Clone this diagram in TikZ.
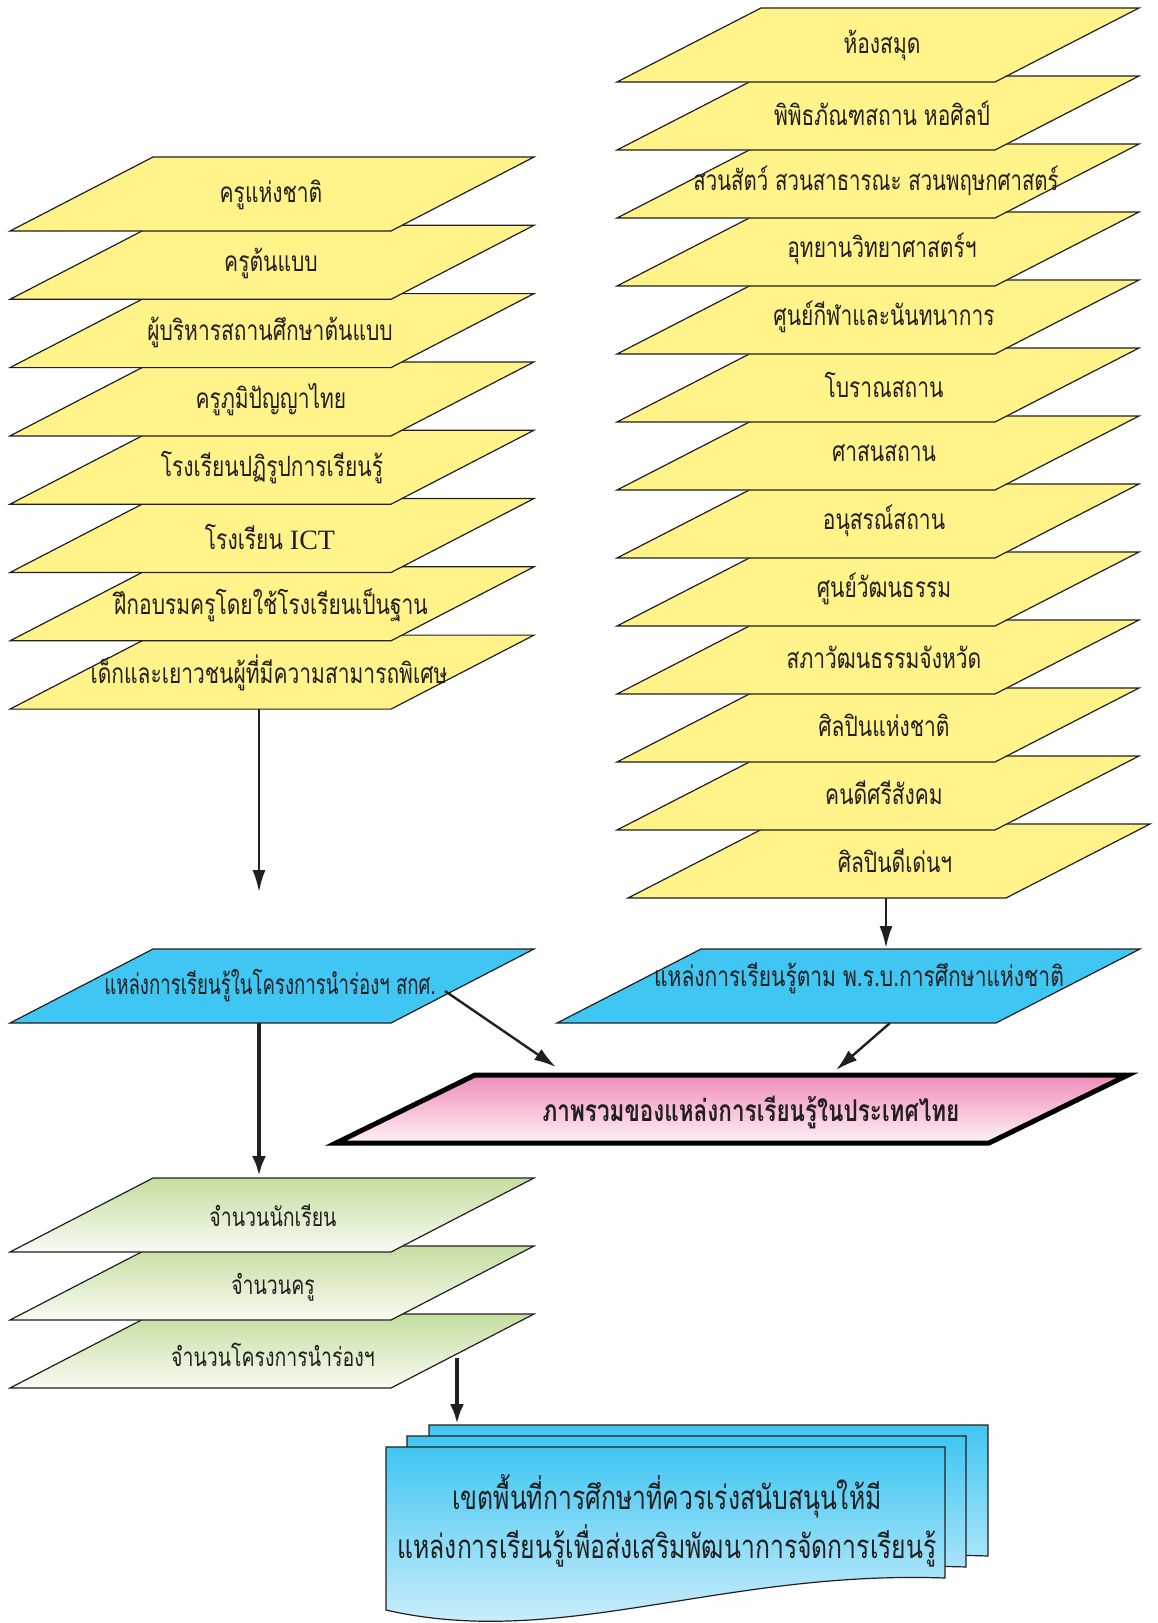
\documentclass[tikz,border=0pt]{standalone}
\usepackage{fontspec}
\newfontfamily\thai[Script=Thai,FakeStretch=0.75]{Loma}
\newfontfamily\thain[Script=Thai,FakeStretch=0.665]{Loma}
\newfontfamily\lat{Liberation Serif}
\usetikzlibrary{arrows.meta}
\definecolor{ylw}{RGB}{255,243,138}
\definecolor{cyn}{RGB}{64,198,242}
\definecolor{pnk}{RGB}{240,140,185}
\definecolor{pnkl}{RGB}{253,242,247}
\definecolor{grn}{RGB}{196,222,160}
\definecolor{grnl}{RGB}{248,251,243}
\definecolor{docl}{RGB}{224,244,252}
\definecolor{ink}{RGB}{35,31,32}
\newcommand\plgm[6]{\path[#6] (#1,#2) -- ++(#3,0) -- ++(#4,-#5) -- ++(-#3,0) -- cycle;}
\newcommand\docsheet[2]{\path[docbox, shift={(#1,#2)}] (386,1447) -- (945,1447) -- (945,1578) .. controls (720,1570) and (560,1650) .. (386,1610) -- cycle;}
\tikzset{
  box/.style={draw=ink, line width=1.2pt},
  ybox/.style={box, fill=ylw},
  bbox/.style={box, fill=cyn},
  gbox/.style={box, top color=grn, bottom color=grnl},
  pbox/.style={draw=black, line width=5pt, top color=pnk, bottom color=pnkl},
  docbox/.style={box, top color=cyn, bottom color=docl},
  ytxt/.style={font=\thai\fontsize{28}{30}\selectfont, text=ink, inner sep=0pt},
  gtxt/.style={font=\thai\fontsize{26}{28}\selectfont, text=ink, inner sep=0pt},
  btxt/.style={font=\thain\fontsize{28}{30}\selectfont, text=ink, inner sep=0pt},
  ptxt/.style={font=\thai\bfseries\fontsize{30}{32}\selectfont, text=ink, inner sep=0pt},
  dtxt/.style={font=\thai\fontsize{33}{40}\selectfont, text=ink, inner sep=0pt, align=center},
  conn/.style={draw=ink, line width=2.4pt, -{Latex[length=22pt,width=13pt]}},
  thickconn/.style={draw=ink, line width=4.5pt, -{Latex[length=20pt,width=14pt]}}
}
\begin{document}
\begin{tikzpicture}[x=1pt,y=-1pt]
\useasboundingbox (0,0) rectangle (1158,1623);
% right stack (drawn bottom to top)
\plgm{628}{898}{378}{144}{74}{ybox}
\foreach \i in {11,10,...,0}{\plgm{617}{82+68*\i}{378}{144}{74}{ybox}}
\node[ytxt] (R1) at (882,45) {ห้องสมุด};
\node[ytxt] (R2) at (882,113) {พิพิธภัณฑสถาน หอศิลป์};
\node[ytxt,xscale=0.97] (R3) at (876,181) {สวนสัตว์ สวนสาธารณะ สวนพฤษกศาสตร์};
\node[ytxt] (R4) at (882,249) {อุทยานวิทยาศาสตร์ฯ};
\node[ytxt] (R5) at (884,317) {ศูนย์กีฬาและนันทนาการ};
\node[ytxt] (R6) at (884,385) {โบราณสถาน};
\node[ytxt] (R7) at (884,453) {ศาสนสถาน};
\node[ytxt] (R8) at (884,521) {อนุสรณ์สถาน};
\node[ytxt] (R9) at (884,589) {ศูนย์วัฒนธรรม};
\node[ytxt] (R10) at (884,657) {สภาวัฒนธรรมจังหวัด};
\node[ytxt] (R11) at (884,725) {ศิลปินแห่งชาติ};
\node[ytxt] (R12) at (884,793) {คนดีศรีสังคม};
\node[ytxt] (R13) at (895,861) {ศิลปินดีเด่นฯ};
% left stack
\foreach \i in {7,6,...,0}{\plgm{10}{231+68.3*\i}{381}{143}{74}{ybox}}
\node[ytxt] (L1) at (271,195) {ครูแห่งชาติ};
\node[ytxt] (L2) at (271,263) {ครูต้นแบบ};
\node[ytxt] (L3) at (270,332) {ผู้บริหารสถานศึกษาต้นแบบ};
\node[ytxt] (L4) at (271,400) {ครูภูมิปัญญาไทย};
\node[ytxt] (L5) at (272,468) {โรงเรียนปฏิรูปการเรียนรู้};
\node[ytxt] (L6) at (270,537) {โรงเรียน {\lat ICT}};
\node[ytxt] (L7) at (271,605) {ฝึกอบรมครูโดยใช้โรงเรียนเป็นฐาน};
\node[ytxt] (L8) at (269,673) {เด็กและเยาวชนผู้ที่มีความสามารถพิเศษ};
% blue boxes
\plgm{10}{1023}{381}{143}{74}{bbox}
\node[btxt] (B1) at (270,986) {แหล่งการเรียนรู้ในโครงการนำร่องฯ สกศ.};
\plgm{557}{1023}{439}{144}{74}{bbox}
\node[ytxt] (B2) at (859,978) {แหล่งการเรียนรู้ตาม พ.ร.บ.การศึกษาแห่งชาติ};
% pink box
\plgm{336}{1143}{653}{139}{68}{pbox}
\node[ptxt] (P) at (751,1112) {ภาพรวมของแหล่งการเรียนรู้ในประเทศไทย};
% green stack
\foreach \i in {2,1,0}{\plgm{10}{1252+68*\i}{381}{143}{74}{gbox}}
\node[gtxt] (G1) at (273,1216) {จำนวนนักเรียน};
\node[gtxt] (G2) at (273,1287) {จำนวนครู};
\node[gtxt] (G3) at (273,1355) {จำนวนโครงการนำร่องฯ};
% document stack
\docsheet{43}{-22}
\docsheet{21}{-11}
\docsheet{0}{0}
\node[dtxt] (D) at (667,1521) {เขตพื้นที่การศึกษาที่ควรเร่งสนับสนุนให้มี\\[6pt]แหล่งการเรียนรู้เพื่อส่งเสริมพัฒนาการจัดการเรียนรู้};
% connectors
\coordinate (a1s) at (259,709);
\coordinate (a1e) at (259,892);
\coordinate (a2s) at (886,898);
\coordinate (a2e) at (886,948);
\coordinate (a3s) at (445,991);
\coordinate (a3e) at (556,1067);
\coordinate (a4s) at (890,1023);
\coordinate (a4e) at (836,1070);
\coordinate (a5s) at (259,1023);
\coordinate (a5e) at (259,1176);
\coordinate (a6s) at (457,1358);
\coordinate (a6e) at (457,1424);
\draw[conn] (a1s) -- (a1e);
\draw[conn] (a2s) -- (a2e);
\draw[conn] (a3s) -- (a3e);
\draw[conn] (a4s) -- (a4e);
\draw[thickconn] (a5s) -- (a5e);
\draw[thickconn] (a6s) -- (a6e);
\end{tikzpicture}
\end{document}
